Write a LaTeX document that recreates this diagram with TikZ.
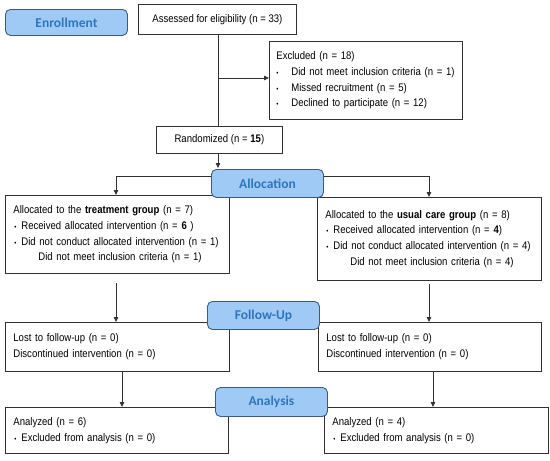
\documentclass[tikz,border=0pt]{standalone}
\usepackage{fontspec}
\setmainfont{Liberation Sans}[FakeStretch=0.87]
\newfontfamily\hdfont{Carlito}
\usetikzlibrary{arrows.meta,positioning,calc}
\definecolor{hdfill}{RGB}{160,202,246}
\definecolor{hdline}{RGB}{62,90,122}
\definecolor{hdtext}{RGB}{46,117,190}
\definecolor{ln}{RGB}{50,50,50}
\newcommand{\bul}{\makebox[7pt][l]{\scriptsize\textbullet}}
\begin{document}
\begin{tikzpicture}[x=1pt,y=-1pt,
  box/.style={draw=ln,line width=0.8pt,fill=white,anchor=north west,inner xsep=8pt,inner ysep=2pt,align=left,
    font={\fontsize{11}{15.8}\selectfont}},
  cbox/.style={draw=ln,line width=0.8pt,fill=white,anchor=north west,inner sep=0pt,align=center,
    font={\fontsize{11}{15.8}\selectfont}},
  hd/.style={draw=hdline,fill=hdfill,line width=0.9pt,rounded corners=5pt,anchor=north west,inner sep=0pt,
    text=hdtext,font={\hdfont\bfseries\fontsize{13.5}{15}\selectfont}},
  conn/.style={draw=ln,line width=0.8pt},
  arr/.style={conn,-{Triangle[length=5pt,width=4.5pt]}}]
\useasboundingbox (0,0) rectangle (550,461);
% boxes
\node[cbox,minimum width=158pt,minimum height=30pt] (assess) at (138,4) {Assessed for eligibility (n = 33)};
\node[box,minimum width=193pt,minimum height=78pt,text width=179pt,inner xsep=7pt] (excl) at (269,41)
 {Excluded (n = 18)\\
  \mbox{\makebox[15pt][l]{\scriptsize\textbullet}Did not meet inclusion criteria (n = 1)}\\
  \mbox{\makebox[15pt][l]{\scriptsize\textbullet}Missed recruitment (n = 5)}\\
  \mbox{\makebox[15pt][l]{\scriptsize\textbullet}Declined to participate (n = 12)}};
\node[cbox,minimum width=126pt,minimum height=27pt] (rand) at (156,126) {Randomized (n = \textbf{15})};
\node[box,minimum width=224pt,minimum height=78pt,text width=208pt,inner xsep=8pt] (lalloc) at (5,195)
 {Allocated to the \textbf{treatment group} (n = 7)\\
  \mbox{\hspace*{1pt}\bul Received allocated intervention (n = \textbf{6} )}\\
  \mbox{\hspace*{1pt}\bul Did not conduct allocated intervention (n = 1)}\\
  \hspace*{25pt}Did not meet inclusion criteria (n = 1)};
\node[box,minimum width=224pt,minimum height=83pt,text width=208pt] (ralloc) at (317,197)
 {Allocated to the \textbf{usual care group} (n = 8)\\
  \mbox{\hspace*{1pt}\bul Received allocated intervention (n = \textbf{4})}\\
  \mbox{\hspace*{1pt}\bul Did not conduct allocated intervention (n = 4)}\\
  \hspace*{25pt}Did not meet inclusion criteria (n = 4)};
\node[box,minimum width=224pt,minimum height=49pt,text width=208pt] (lfu) at (5,322)
 {Lost to follow-up (n = 0)\\Discontinued intervention (n = 0)};
\node[box,minimum width=223pt,minimum height=49pt,text width=207pt] (rfu) at (318,322)
 {Lost to follow-up (n = 0)\\Discontinued intervention (n = 0)};
\node[box,minimum width=223pt,minimum height=46pt,text width=207pt] (lan) at (5,407)
 {Analyzed (n = 6)\\\hspace*{1pt}\bul Excluded from analysis (n = 0)};
\node[box,minimum width=224pt,minimum height=46pt,text width=208pt] (ran) at (324,407)
 {Analyzed (n = 4)\\\hspace*{1pt}\bul Excluded from analysis (n = 0)};
% connector points
\coordinate (ex) at (218,78);
\coordinate (aL) at (116,176);
\coordinate (aR) at (429,176);
\coordinate (fL) at (116,283);
\coordinate (fR) at (429,284);
\coordinate (nL) at (122,371);
\coordinate (nR) at (433,371);
% connectors
\draw[conn] (assess.south -| ex) -- (ex |- rand.north);
\draw[arr] (ex) -- (excl.west |- ex);
\draw[arr] (rand.south -| ex) -- (ex |- 0,168);
\draw[arr] (224,176) -- (aL) -- (aL |- lalloc.north);
\draw[arr] (310,176) -- (aR) -- (aR |- ralloc.north);
\draw[arr] (fL) -- (fL |- lfu.north);
\draw[arr] (fR) -- (fR |- rfu.north);
\draw[arr] (nL |- lfu.south) -- (nL |- lan.north);
\draw[arr] (nR |- rfu.south) -- (nR |- ran.north);
% headers
\node[hd,minimum width=122pt,minimum height=26pt] (enrol) at (5,9) {Enrollment};
\node[hd,minimum width=112pt,minimum height=28pt] (alloc) at (211,169) {Allocation};
\node[hd,minimum width=112pt,minimum height=28pt] (fup) at (207,301) {Follow-Up};
\node[hd,minimum width=112pt,minimum height=29pt] (anal) at (215,387) {Analysis};
\end{tikzpicture}
\end{document}
